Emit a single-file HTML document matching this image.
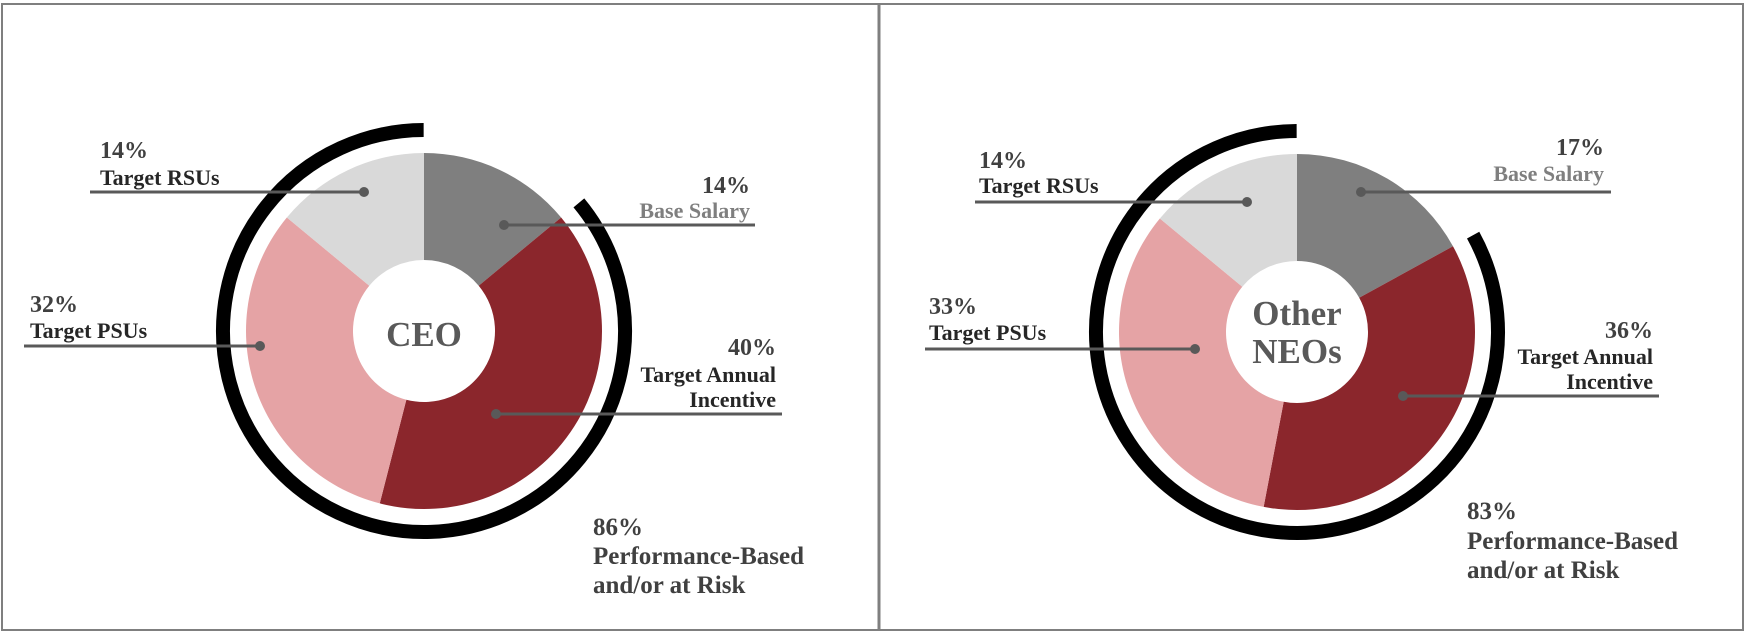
<!DOCTYPE html>
<html><head><meta charset="utf-8"><style>
html,body{margin:0;padding:0;background:#fff;}
svg{display:block;font-family:"Liberation Serif",serif;font-weight:bold;}
</style></head><body>
<svg id="chart" width="1749" height="638" viewBox="0 0 1749 638">
<rect x="2" y="4" width="1741" height="626" fill="none" stroke="#7f7f7f" stroke-width="2"/>
<line x1="879" y1="4" x2="879" y2="630" stroke="#7f7f7f" stroke-width="3"/>
<g id="g0"></g>
<g id="g1"></g>
</svg>
<script>
const categories = ["Base Salary","Target Annual Incentive","Target PSUs","Target RSUs"];
const ceoValues = [14,40,32,14];
const neoValues = [17,36,33,14];
const atRiskValues = [86,83];
const panelTitles = [["CEO"],["Other","NEOs"]];
const colors = ["#7f7f7f","#8b262c","#e5a3a5","#d9d9d9"];
const NS="http://www.w3.org/2000/svg";
function mk(tag,attrs,parent){const e=document.createElementNS(NS,tag);for(const k in attrs)e.setAttribute(k,attrs[k]);parent.appendChild(e);return e;}
function pt(cx,cy,r,deg){const a=deg*Math.PI/180;return [cx+r*Math.sin(a),cy-r*Math.cos(a)];}
function angleScale(v,total){return v/total*360;}
function slicePath(cx,cy,r0,r1,a0,a1){
  const p0=pt(cx,cy,r1,a0),p1=pt(cx,cy,r1,a1),p2=pt(cx,cy,r0,a1),p3=pt(cx,cy,r0,a0);
  const lg=(a1-a0)>180?1:0;
  return `M${p0[0]},${p0[1]}A${r1},${r1} 0 ${lg} 1 ${p1[0]},${p1[1]}L${p2[0]},${p2[1]}A${r0},${r0} 0 ${lg} 0 ${p3[0]},${p3[1]}Z`;
}
function arcPath(cx,cy,r,a0,a1){
  const p0=pt(cx,cy,r,a0),p1=pt(cx,cy,r,a1);const lg=(a1-a0)>180?1:0;
  return `M${p0[0]},${p0[1]}A${r},${r} 0 ${lg} 1 ${p1[0]},${p1[1]}`;
}
function txt(parent,x,y,s,size,anchor,fill){const t=mk("text",{x:x,y:y,"font-size":size,"text-anchor":anchor,fill:fill},parent);t.textContent=s;return t;}

const layouts=[
 {cx:424,cy:331,
  labels:[
   {lines:["Base Salary"],px:750,py:193,ly:[218],anchor:"end",lineY:225,x1:504,x2:755,sub:"#7f7f7f"},
   {lines:["Target Annual","Incentive"],px:776,py:355,ly:[382,407],anchor:"end",lineY:414,x1:496,x2:782},
   {lines:["Target PSUs"],px:30,py:312,ly:[338],anchor:"start",lineY:346,x1:24,x2:260},
   {lines:["Target RSUs"],px:100,py:158,ly:[185],anchor:"start",lineY:192,x1:90,x2:364}],
  risk:{x:593,y:[535,564,593]}, title:[346]},
 {cx:1297,cy:332,
  labels:[
   {lines:["Base Salary"],px:1604,py:155,ly:[181],anchor:"end",lineY:192,x1:1361,x2:1611,sub:"#7f7f7f"},
   {lines:["Target Annual","Incentive"],px:1653,py:338,ly:[364,389],anchor:"end",lineY:396,x1:1403,x2:1659},
   {lines:["Target PSUs"],px:929,py:314,ly:[340],anchor:"start",lineY:349,x1:925,x2:1195},
   {lines:["Target RSUs"],px:979,py:168,ly:[193],anchor:"start",lineY:202,x1:975,x2:1247}],
  risk:{x:1467,y:[519,549,578]}, title:[325,363]}
];
[ceoValues,neoValues].forEach((vals,pi)=>{
  const g=document.getElementById("g"+pi);const L=layouts[pi];
  const total=vals.reduce((a,b)=>a+b,0);
  let a=0;
  vals.forEach((v,i)=>{
    const a1=a+angleScale(v,total);
    const p=mk("path",{d:slicePath(L.cx,L.cy,71,178,a,a1),fill:colors[i]},g);
    
    
    a=a1;
  });
  const startA=angleScale(100-atRiskValues[pi],100);
  const arc=mk("path",{d:arcPath(L.cx,L.cy,201,startA,359.9),fill:"none",stroke:"#000","stroke-width":14},g);
  
  
  panelTitles[pi].forEach((s,k)=>{
    const t=txt(g,L.cx,L.title[k],s,35,"middle","#595959");
    
    
  });
  L.labels.forEach((lb,i)=>{
    const ln=mk("line",{x1:lb.x1,y1:lb.lineY,x2:lb.x2,y2:lb.lineY,stroke:"#595959","stroke-width":3},g);
    
    
    const dx=lb.anchor==="end"?lb.x1:lb.x2;
    const dot=mk("circle",{cx:dx,cy:lb.lineY,r:5,fill:"#595959"},g);
    
    
    const pct=txt(g,lb.px,lb.py,vals[i]+"%",24,lb.anchor,"#404040");
    
    
    lb.lines.forEach((s,k)=>{
      const t=txt(g,lb.px,lb.ly[k],s,22,lb.anchor,lb.sub||"#262626");
      
      
    });
  });
  const r=L.risk;
  [atRiskValues[pi]+"%","Performance-Based","and/or at Risk"].forEach((s,k)=>{
    const t=txt(g,r.x,r.y[k],s,25,"start","#404040");
    
    
  });
});
</script>
</body></html>
